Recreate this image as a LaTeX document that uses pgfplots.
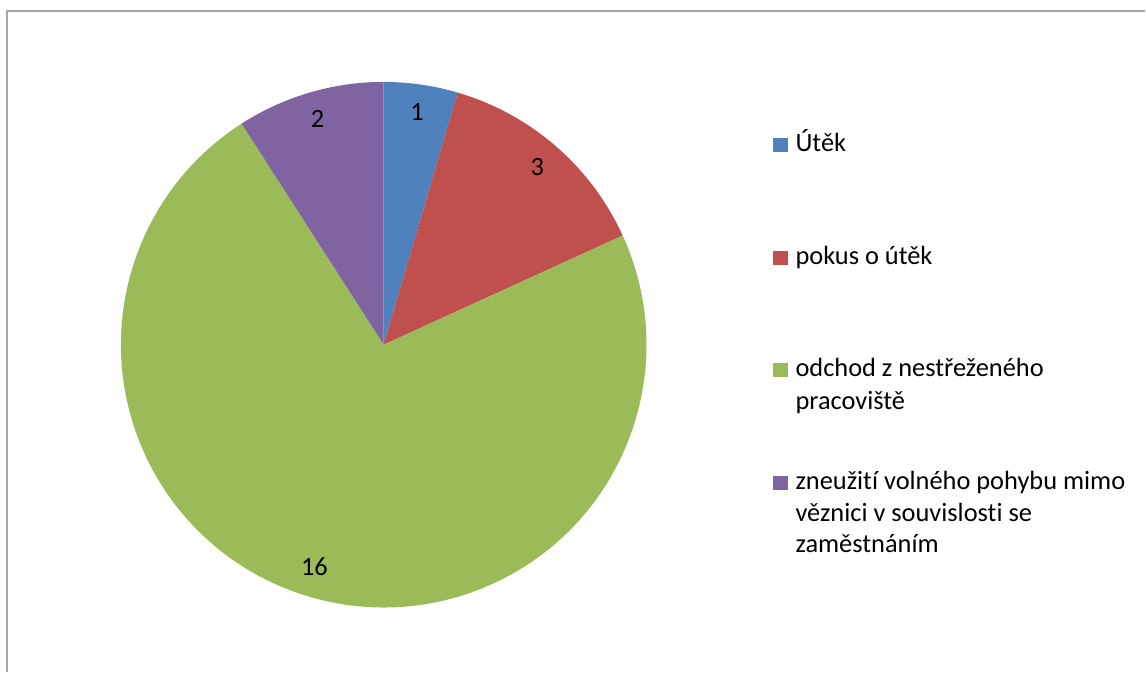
\documentclass[border=0pt]{standalone}
\usepackage{pgfplots}
\pgfplotsset{compat=1.18}
\usepackage{pgfplotstable}
\usepackage{fontspec}
\setmainfont{Carlito}[Ligatures=NoCommon]
\definecolor{cA}{HTML}{4F81BD}
\definecolor{cB}{HTML}{C0504D}
\definecolor{cC}{HTML}{9BBB59}
\definecolor{cD}{HTML}{8064A2}
\definecolor{frame}{HTML}{A6A6A6}
\newcommand\fs{\fontsize{26.5}{31}\selectfont}
\pgfplotstableread{
value
1
3
16
2
}\piedata
\begin{document}
\begin{tikzpicture}
\pgfplotstablegetelem{0}{value}\of\piedata\let\va\pgfplotsretval
\pgfplotstablegetelem{1}{value}\of\piedata\let\vb\pgfplotsretval
\pgfplotstablegetelem{2}{value}\of\piedata\let\vc\pgfplotsretval
\pgfplotstablegetelem{3}{value}\of\piedata\let\vd\pgfplotsretval
\pgfmathsetmacro\tot{\va+\vb+\vc+\vd}
\pgfmathsetmacro\aA{90}
\pgfmathsetmacro\aB{\aA-360*\va/\tot}
\pgfmathsetmacro\aC{\aB-360*\vb/\tot}
\pgfmathsetmacro\aD{\aC-360*\vc/\tot}
\pgfmathsetmacro\aE{\aD-360*\vd/\tot}
\pgfmathsetmacro\mA{(\aA+\aB)/2}
\pgfmathsetmacro\mB{(\aB+\aC)/2}
\pgfmathsetmacro\mC{(\aC+\aD)/2}
\pgfmathsetmacro\mD{(\aD+\aE)/2}
\begin{axis}[
  scale only axis, width=1146bp, height=673bp,
  xmin=0, xmax=1146, ymin=0, ymax=673,
  hide axis, clip=false,
]
\path (axis cs:0,0) rectangle (axis cs:1146,673);
\draw[frame, line width=2bp] (axis cs:7.5,0) -- (axis cs:7.5,662) -- (axis cs:1146,662);
% pie slices
\fill[cA] (axis cs:384,328) -- ++(\aA:263bp) arc[start angle=\aA, end angle=\aB, radius=263bp] -- cycle;
\fill[cB] (axis cs:384,328) -- ++(\aB:263bp) arc[start angle=\aB, end angle=\aC, radius=263bp] -- cycle;
\fill[cC] (axis cs:384,328) -- ++(\aC:263bp) arc[start angle=\aC, end angle=\aD, radius=263bp] -- cycle;
\fill[cD] (axis cs:384,328) -- ++(\aD:263bp) arc[start angle=\aD, end angle=\aE, radius=263bp] -- cycle;
% data labels
\path (axis cs:384,328) ++(\mA:235bp) node[inner sep=0pt] {\fs\va};
\path (axis cs:384,328) ++(\mB:235bp) node[inner sep=0pt] {\fs\vb};
\path (axis cs:384,328) ++(\mC:232bp) node[inner sep=0pt, xshift=-4bp] {\fs\vc};
\path (axis cs:384,328) ++(\mD:235bp) node[inner sep=0pt] {\fs\vd};
% legend
\fill[cA] (axis cs:774,521) rectangle (axis cs:789,535);
\fill[cB] (axis cs:774,408) rectangle (axis cs:789,422);
\fill[cC] (axis cs:774,296) rectangle (axis cs:789,310);
\fill[cD] (axis cs:774,183) rectangle (axis cs:789,197);
\node[anchor=base west, inner sep=0pt] at (axis cs:796,521) {\fs Útěk};
\node[anchor=base west, inner sep=0pt] at (axis cs:796,408) {\fs pokus o útěk};
\node[anchor=base west, inner sep=0pt] at (axis cs:796,296) {\fs odchod z nestřeženého};
\node[anchor=base west, inner sep=0pt] at (axis cs:796,263) {\fs pracoviště};
\node[anchor=base west, inner sep=0pt] at (axis cs:796,183) {\fs zneužití volného pohybu mimo};
\node[anchor=base west, inner sep=0pt] at (axis cs:796,151.5) {\fs věznici v souvislosti se};
\node[anchor=base west, inner sep=0pt] at (axis cs:796,120) {\fs zaměstnáním};
\end{axis}
\end{tikzpicture}
\end{document}
